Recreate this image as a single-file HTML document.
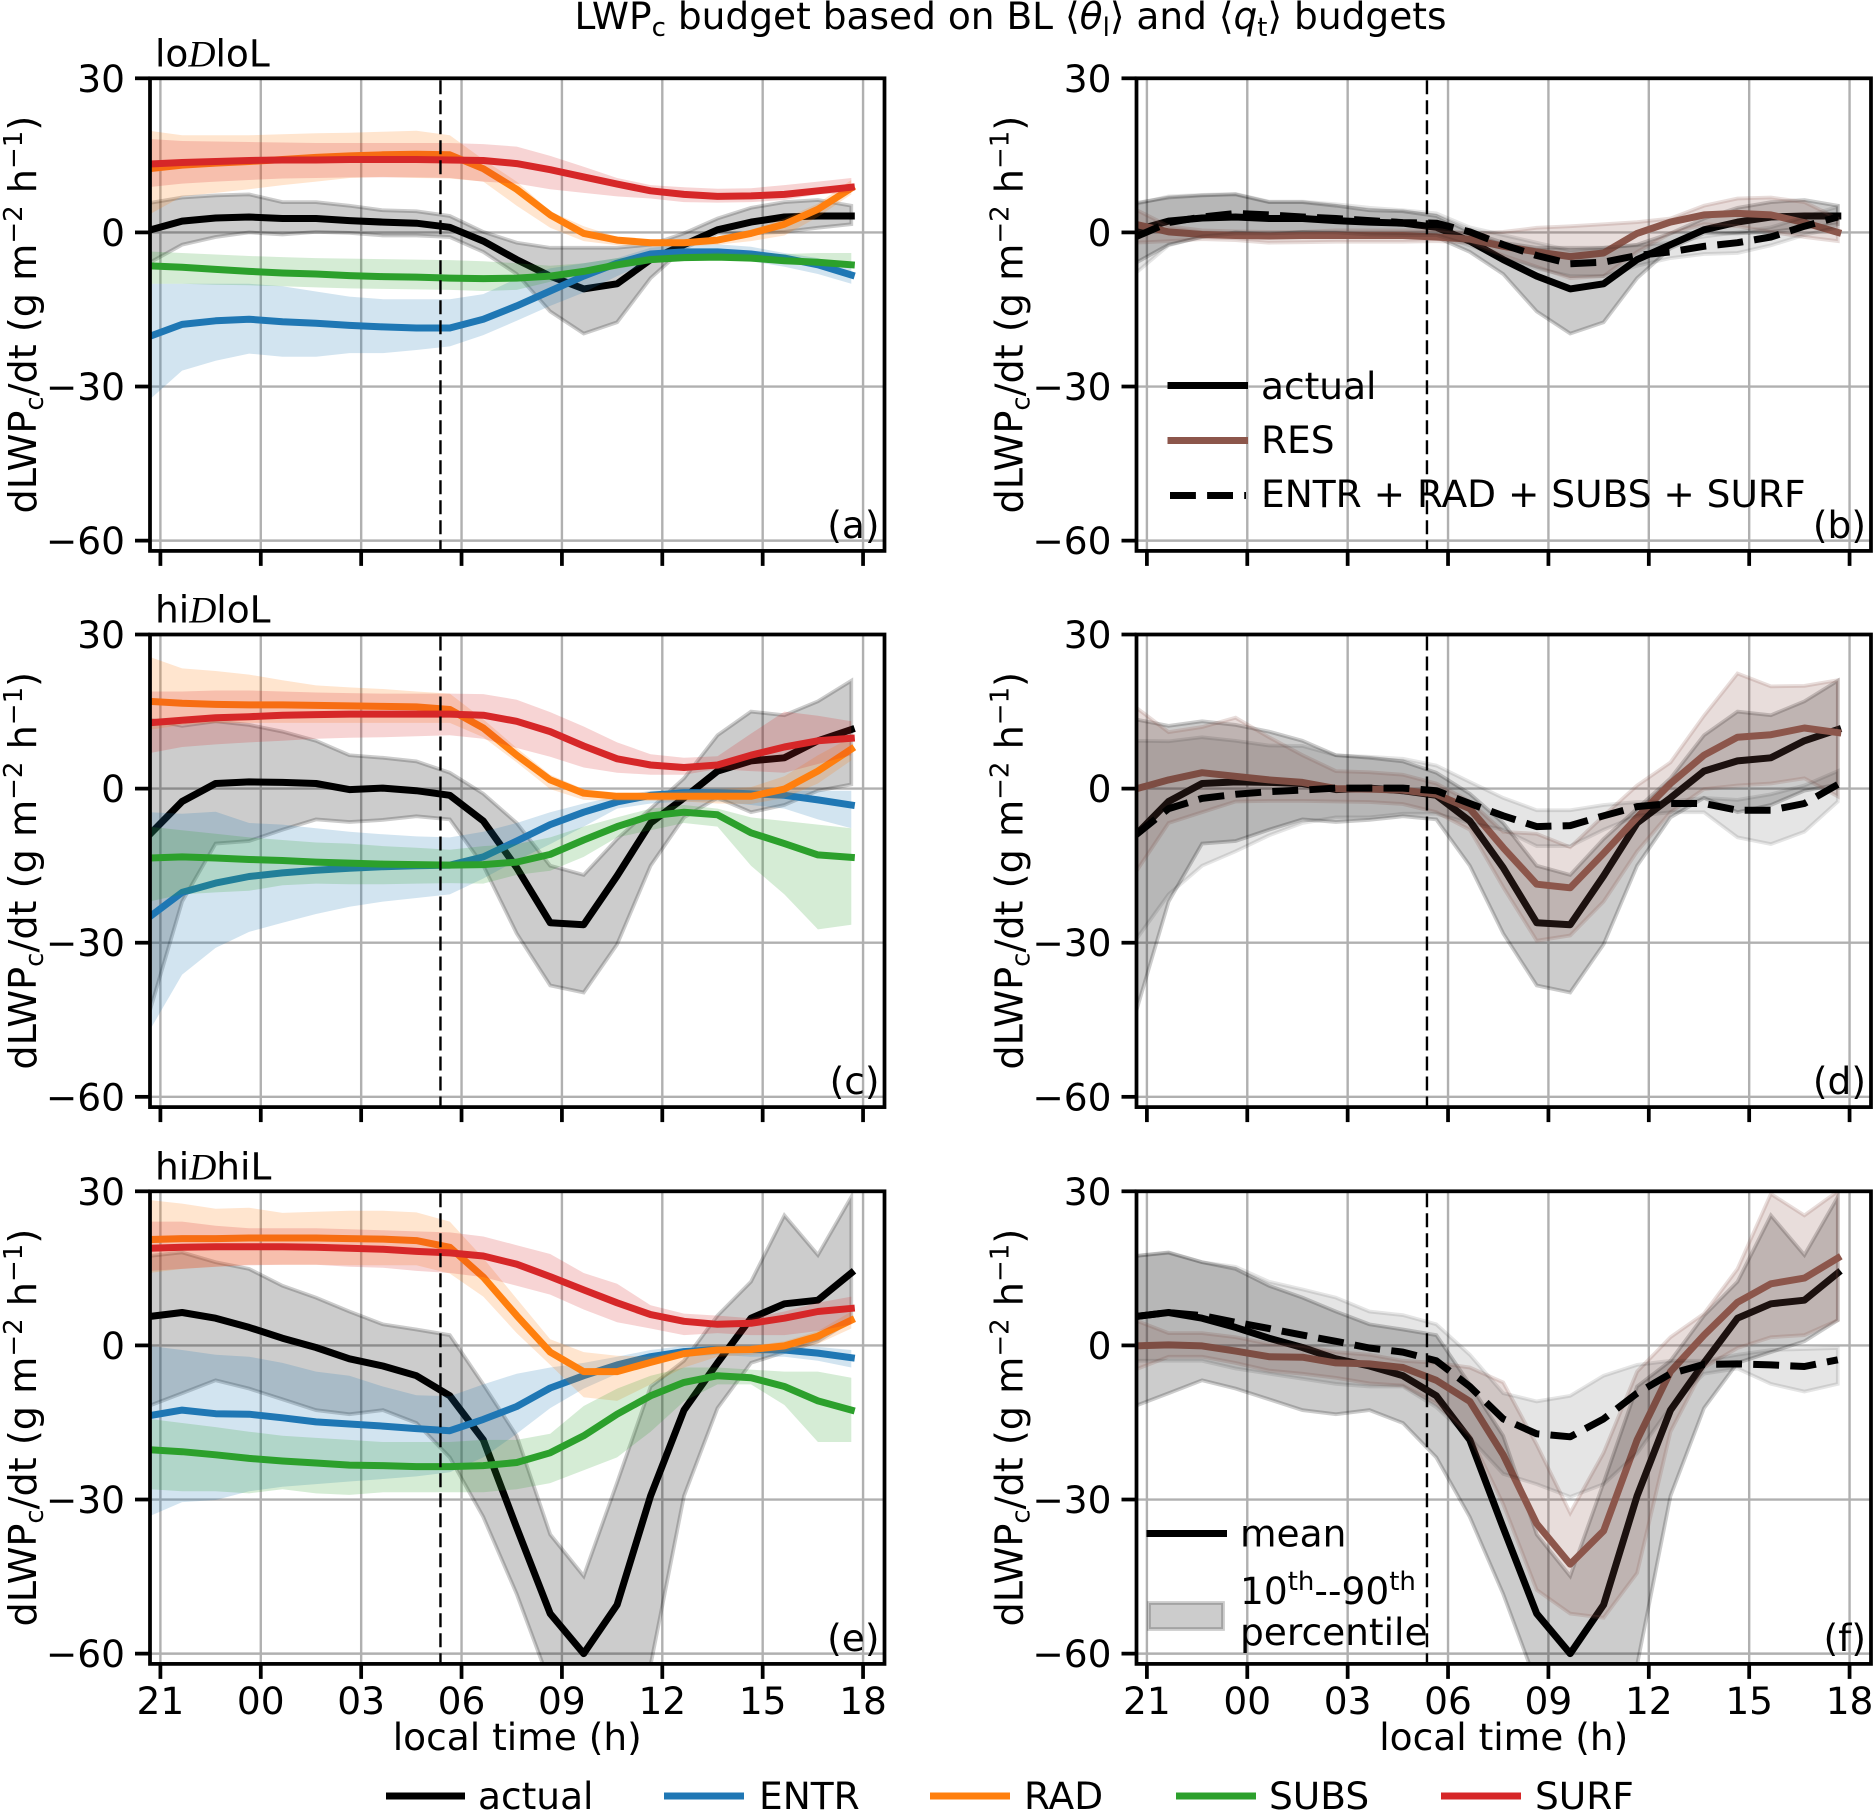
<!DOCTYPE html>
<html lang="en">
<head>
<meta charset="utf-8">
<title>LWPc budget panels</title>
<style>
html,body{margin:0;padding:0;background:#fff;}
#figure{display:block;width:1874px;height:1811px;}
text{font-family:"DejaVu Sans","Liberation Sans",sans-serif;font-size:37.5px;fill:#000;}
</style>
</head>
<body>
<svg id="figure" xmlns="http://www.w3.org/2000/svg" width="1874" height="1811" viewBox="0 0 1874 1811">
<rect x="0" y="0" width="1874" height="1811" fill="#fff"/>
<text x="1010.5" y="29" text-anchor="middle">LWP<tspan dy="7" font-size="26">c</tspan><tspan dy="-7"> budget based on BL ⟨</tspan><tspan font-style="italic">θ</tspan><tspan dy="7" font-size="26">l</tspan><tspan dy="-7">⟩ and ⟨</tspan><tspan font-style="italic">q</tspan><tspan dy="7" font-size="26">t</tspan><tspan dy="-7">⟩ budgets</tspan></text>
<g id="panels"></g>
<g id="legend-b">
<line x1="1167.5" x2="1248" y1="385.5" y2="385.5" stroke="#000" stroke-width="7"/>
<text x="1261" y="399">actual</text>
<line x1="1167.5" x2="1248" y1="440.5" y2="440.5" stroke="#8c564b" stroke-width="7"/>
<text x="1261" y="453">RES</text>
<line x1="1170" x2="1246" y1="495.5" y2="495.5" stroke="#000" stroke-width="7" stroke-dasharray="25.9 11.2"/>
<text x="1261" y="507">ENTR + RAD + SUBS + SURF</text>
</g>
<g id="legend-f">
<line x1="1146.5" x2="1227" y1="1533.5" y2="1533.5" stroke="#000" stroke-width="7"/>
<text x="1240" y="1546.5">mean</text>
<rect x="1149" y="1603" width="74" height="26" fill="#000" fill-opacity="0.2" stroke="#000" stroke-opacity="0.2" stroke-width="3.75"/>
<text x="1240" y="1604">10<tspan dy="-14" font-size="26">th</tspan><tspan dy="14">--90</tspan><tspan dy="-14" font-size="26">th</tspan></text>
<text x="1240" y="1645">percentile</text>
</g>
<g id="legend-bottom">
<line x1="386" x2="465" y1="1796" y2="1796" stroke="#000" stroke-width="7"/>
<text x="478" y="1809">actual</text>
<line x1="664" x2="744" y1="1796" y2="1796" stroke="#1f77b4" stroke-width="7"/>
<text x="759" y="1809">ENTR</text>
<line x1="930" x2="1010" y1="1796" y2="1796" stroke="#ff7f0e" stroke-width="7"/>
<text x="1024" y="1809">RAD</text>
<line x1="1176" x2="1256" y1="1796" y2="1796" stroke="#2ca02c" stroke-width="7"/>
<text x="1269" y="1809">SUBS</text>
<line x1="1441" x2="1521" y1="1796" y2="1796" stroke="#d62728" stroke-width="7"/>
<text x="1535" y="1809">SURF</text>
</g>
</svg>
<script>
// ---------- shared axis data ----------
const hours = [-3.35,-2.35,-1.35,-0.35,0.65,1.65,2.65,3.65,4.65,5.65,6.65,7.65,8.65,9.65,10.65,11.65,12.65,13.65,14.65,15.65,16.65,17.65];
const xTickHours = [-3,0,3,6,9,12,15,18];
const xTickLabels = ['21','00','03','06','09','12','15','18'];
const yTickValues = [30,0,-30,-60];
const yTickLabels = ['30','0','\u221230','\u221260'];
const yLimits = [-62,30];
const sunriseHour = 5.37;

// ---------- panel a / b ----------
const aActual = [0.4,2.2,2.8,3.0,2.7,2.7,2.3,2.0,1.8,1.0,-1.7,-5.3,-8.5,-11,-10,-5.3,-2.4,0.5,2,3,3.2,3.2];
const aActualHi = [5.7,6.8,7.2,7.4,5.9,5.9,5.2,4.3,4.1,3.2,0.1,-2,-3,-3,-3,-2.4,-0.2,2.7,4.8,5.9,6.3,5.2];
const aActualLo = [-6,-2.4,-0.9,0,-0.4,0.1,-0.1,-0.6,-0.6,-0.9,-3.8,-8.1,-15.4,-19.7,-17.5,-8.9,-3.1,-0.2,-0.2,0.1,0.9,1.6];
const aEntr = [-20.3,-17.9,-17.2,-16.9,-17.4,-17.7,-18.1,-18.4,-18.6,-18.6,-16.9,-14.3,-11.4,-8.5,-6,-4.2,-3.8,-3.8,-4.2,-5,-6.3,-8.3];
const aEntrHi = [-10,-10,-10,-10,-10.5,-11.5,-12.5,-13,-13,-13,-12,-9,-7,-6,-5,-3,-2.4,-2.3,-2.8,-4,-5,-7];
const aEntrLo = [-32.7,-26.9,-25,-23.6,-24.2,-24.2,-23.5,-23.5,-22.9,-22.2,-20,-17.2,-14.3,-11.7,-8.5,-5.6,-4.9,-5.3,-5.6,-6.7,-8.1,-10];
const aSubs = [-6.5,-6.8,-7.2,-7.6,-7.9,-8.1,-8.4,-8.6,-8.7,-8.9,-9,-8.9,-8.5,-7.6,-6.3,-5.3,-4.9,-4.8,-5,-5.5,-5.8,-6.3];
const aSubsHi = [-3.7,-4,-4.3,-4.6,-4.8,-5,-5.1,-5.2,-5.3,-5.4,-5.6,-6,-6.5,-6,-5,-4.5,-4.2,-3.9,-4,-4.2,-4,-4];
const aSubsLo = [-10,-10,-10.2,-10.3,-10.5,-10.7,-10.9,-11,-11.1,-11.2,-11.4,-11.2,-9.6,-8.1,-7.1,-6,-5.3,-5.3,-5.3,-6,-6.5,-7];
const aRad = [12.4,13.1,13.5,13.8,14.2,14.6,14.9,15.1,15.2,15.1,12.4,8.4,3.4,-0.2,-1.5,-2,-2,-1.5,-0.2,1.6,4.5,8.6];
const aRadHi = [19.8,18.9,18.9,18.9,19.1,19.3,19.4,19.6,19.8,18.9,14.2,9.9,4.1,1.2,-0.9,-1.6,-1.6,-0.9,0.5,2.7,5.6,10.2];
const aRadLo = [3.4,7,7.7,8.4,9.2,9.9,10.6,10.8,10.6,10.5,9.9,5.2,0.9,-1.7,-2.5,-2.7,-2.7,-2.4,-1.7,-0.6,3,7.4];
const aSurf = [13.3,13.6,13.8,14,14.1,14.1,14.2,14.2,14.2,14.1,14,13.4,12.2,10.8,9.4,8.1,7.4,7,7.1,7.4,8.1,8.8];
const aSurfHi = [18.2,17.8,17.7,17.6,17.5,17.4,17.4,17.4,17.4,17.4,17.2,16.7,14.9,12.8,10.6,9.2,8.8,8.5,8.6,9.2,9.9,10.6];
const aSurfLo = [8.8,9.5,9.9,10.2,10.5,10.6,10.7,10.7,10.7,10.6,9.9,9.5,8.4,7.7,7,6.6,5.9,5.8,5.9,6.3,7.4,7.7];
const bRes = [1.6,0.1,-0.4,-0.6,-0.7,-0.6,-0.6,-0.6,-0.6,-0.9,-1.3,-2.7,-3.8,-4.7,-4,-0.2,2,3.4,3.7,3.4,1.9,0];
const bResHi = [4.5,1.2,0.4,0.2,0.1,0.1,0.4,0.4,0.4,0.5,-0.2,0.1,0.9,1.2,1.6,2,2.7,5.2,6.6,6.8,5.9,2.7];
const bResLo = [-2,-1.7,-1.3,-1.5,-2,-1.9,-1.8,-1.8,-1.8,-1.7,-2,-4.5,-6.7,-8.9,-8.5,-3.8,-0.2,1.6,1.2,0.1,-0.9,-1.7];
const bSum = [-0.9,1.9,3,3.7,3.4,3,2.7,2.3,1.9,1.8,0.1,-2.4,-4.5,-6.1,-5.8,-4.5,-3.8,-2.7,-2,-0.9,1.2,3];
const bSumHi = [5.5,7,7.3,7.5,6,6,5.5,4.8,4.3,3.7,1,-0.5,-2,-3.5,-3,-2.5,-2,-0.8,0,1,3,5];
const bSumLo = [-8,-2.5,-0.8,-0.2,-0.2,0,0,-0.4,-0.5,-0.5,-2.5,-5,-7,-8.5,-8.5,-6.5,-5,-4.2,-4,-2.5,-0.5,1];

// ---------- panel c / d ----------
const cActual = [-9.1,-2.5,1,1.3,1.2,1,-0.2,0.1,-0.4,-1.3,-6.3,-15.4,-26.1,-26.5,-17,-6.7,-1.8,3.4,5.4,6,9.3,11.5];
const cActualHi = [13.5,12.2,13.1,12.4,11.1,9.3,6.5,6,5.3,3.1,-1,-6.7,-15,-16.8,-9.8,-3.9,2,10.4,15,14.3,17,21];
const cActualLo = [-44,-22,-10.7,-10.2,-8,-6,-6.5,-6.1,-5.4,-6,-15,-28.2,-38.3,-39.7,-30.3,-15,-5.6,-1.8,-4.6,-3.2,-0.4,0.8];
const cEntr = [-25.1,-20.2,-18.4,-17.1,-16.4,-15.9,-15.5,-15.2,-15,-14.9,-13.3,-10.2,-7,-4.6,-2.6,-1.3,-0.8,-0.8,-1,-1.3,-2.2,-3.2];
const cEntrHi = [-4.6,-4.9,-4.5,-6.7,-7,-7.7,-8.4,-8.9,-9.3,-9.5,-8.4,-6.7,-4.6,-2.9,-1.5,-0.4,-0.1,-0.1,-0.1,-0.4,-0.4,-0.4];
const cEntrLo = [-47.4,-36.2,-31,-27.9,-26.1,-24.4,-23,-22,-21.3,-20.6,-17.5,-14,-10.8,-7.4,-3.9,-2.9,-2.5,-2.5,-3.2,-3.9,-6,-7.7];
const cSubs = [-13.5,-13.3,-13.5,-13.8,-14,-14.3,-14.5,-14.7,-14.8,-14.9,-14.8,-14.3,-12.8,-10,-7.4,-5.3,-4.6,-5.1,-8.6,-10.7,-12.9,-13.4];
const cSubsHi = [-7.4,-8.1,-8.8,-9.5,-10,-10.5,-10.7,-11.2,-11.5,-11.9,-11.2,-10.8,-9.5,-7.4,-5.6,-3.9,-3.2,-3.9,-5.6,-6.3,-7,-7.7];
const cSubsLo = [-22,-20.6,-20.2,-19.9,-18.8,-18.5,-18.6,-18.6,-18.5,-18.4,-18.5,-16.8,-16,-13.3,-9.5,-8.1,-6.7,-7.4,-15,-20.6,-27.4,-26.5];
const cRad = [17,16.6,16.4,16.3,16.3,16.2,16.1,16,15.9,15.4,11.8,6.5,1.7,-0.9,-1.5,-1.5,-1.5,-1.5,-1.5,-0.1,3.4,7.7];
const cRadHi = [25.7,23.4,22.9,22.2,21.1,20.1,19.7,19.4,18.9,18.5,13.5,7.9,2.7,-0.1,-0.8,-0.8,-0.4,-0.1,0.3,2.4,6.5,10];
const cRadLo = [11.4,12.4,12.8,12.8,12.8,12.8,12.8,12.8,12.8,12.8,10,5.1,-0.1,-2.2,-2.4,-2.4,-2.5,-2.9,-3,-1.8,1,5.5];
const cSurf = [12.8,13.3,13.8,14,14.3,14.4,14.5,14.5,14.5,14.5,14.3,13.1,11.1,8.3,5.8,4.6,4.1,4.6,6.5,8.1,9.3,9.8];
const cSurfHi = [18.9,18.9,19.1,19.1,18.9,18.7,18.6,18.5,18.5,18.5,18.4,17.3,14.9,12.1,9,6.7,6,6.3,10.7,15,14.2,13.1];
const cSurfLo = [6.9,8.1,8.6,9,9.3,9.7,9.9,10,10.2,10.4,9.7,7.9,6.2,4.1,3.1,2.7,2.7,3.8,3.4,3.1,4.8,6.5];
const dRes = [-0.1,1.7,3.1,2.4,1.7,1.2,0,-0.1,-0.3,-1.1,-3.9,-11.5,-18.6,-19.3,-12.6,-5.6,1,6.5,10,10.5,11.8,10.9];
const dResHi = [15.9,11,12,13.8,10,6.5,3.4,3.2,2.7,1,-2.5,-8.4,-8.8,-11.4,-5.3,0.6,5.1,14.2,22.4,19.9,20,21.1];
const dResLo = [-16.4,-6.7,-4.6,-2.5,-2.4,-2.4,-2.5,-2.6,-3,-4.6,-8,-19.2,-29.6,-28.6,-22,-12.2,-4.6,-0.1,0.6,1,2,-1.5];
const dSum = [-9.1,-3.9,-1.9,-1.1,-0.6,-0.3,0.1,0.1,0.1,-0.4,-2.9,-5.3,-7.4,-7.2,-5.3,-3.5,-2.9,-2.9,-4.2,-4.2,-2.9,0.8];
const dSumHi = [9.3,9.2,10,9.3,8.4,8.3,6.5,6.2,5.8,4.5,1.3,-1.8,-4.2,-4.2,-3.2,-2.6,-2.5,-1.8,-2.2,-1.1,0.6,3.4];
const dSumLo = [-29.6,-20.6,-15,-12.2,-9.1,-6.7,-5.6,-5.6,-4.9,-4.9,-6.7,-8,-11.2,-11.2,-8,-5.3,-4.6,-4.6,-9.5,-10.8,-8.4,-2.5];

// ---------- panel e / f ----------
const eActual = [5.6,6.4,5.3,3.5,1.4,-0.4,-2.6,-4,-5.9,-9.8,-18.4,-35.5,-52.2,-60,-50.5,-29.3,-12.6,-3.4,5.3,8.1,8.8,14.1];
const eActualHi = [17.4,18.1,16.2,14.9,11.6,9.3,6.6,4.1,3.1,2,-7.6,-17.6,-36.8,-44.9,-26.7,-8,-3,5.8,12.4,25.3,17.6,28.9];
const eActualLo = [-11.8,-9.3,-6.8,-8.4,-10.5,-12.6,-13.4,-12.6,-15.1,-21.8,-33.4,-48.4,-65.9,-76.8,-76.8,-62.2,-29.3,-12.2,-3.4,-1.3,0.8,4.9];
const eEntr = [-13.7,-12.6,-13.3,-13.4,-14.1,-14.9,-15.3,-15.7,-16.2,-16.6,-14.4,-11.9,-8.3,-5.9,-3.8,-2.2,-1.2,-0.8,-0.8,-0.9,-1.5,-2.4];
const eEntrHi = [-0.1,-0.9,-1.8,-2.2,-3.4,-5.1,-5.9,-8,-9.7,-9.9,-7.6,-5.5,-4.3,-3.4,-2.2,-0.9,-0.1,-0.1,-0.1,-0.3,-0.3,-0.9];
const eEntrLo = [-33.3,-30.5,-30.1,-28.4,-27.5,-27,-26.5,-26,-25.5,-24.7,-21.8,-17.2,-12.2,-8.4,-5.5,-3,-2.2,-1.8,-2.2,-2.2,-3,-4.3];
const eSubs = [-20.3,-20.7,-21.3,-22,-22.5,-22.9,-23.3,-23.4,-23.6,-23.6,-23.4,-22.8,-20.9,-17.6,-13.4,-9.8,-7.2,-5.9,-6.3,-8,-10.8,-12.6];
const eSubsHi = [-14.3,-15.1,-15.9,-16.8,-17.6,-18,-18.4,-18.8,-18.8,-18.8,-18.4,-18.4,-17.2,-11.8,-8.4,-5.9,-4.3,-4.3,-4.7,-5.1,-5.1,-6.3];
const eSubsLo = [-28,-28.4,-28.4,-28.8,-28,-28.8,-29.1,-28.6,-28.6,-28.6,-28.6,-28,-26.8,-24.3,-21.8,-16.8,-10.9,-7.6,-7.6,-11.6,-18.8,-18.8];
const eRad = [20.6,20.8,20.8,20.9,20.9,20.9,20.8,20.7,20.4,19.1,13.3,5.8,-1.3,-5.1,-5.1,-3.3,-1.6,-0.9,-0.8,-0.1,1.8,4.9];
const eRadHi = [28.3,27.6,26.6,26.8,25.8,26,26.2,26.2,25.9,24.1,17,9.1,1.2,-1.3,-2,-2.2,-0.9,-0.1,-0.1,0.8,2.8,6.6];
const eRadLo = [14.1,14.9,15.3,15.7,15.7,15.7,15.6,15.6,15.6,14,9.5,2.4,-3.8,-10.1,-10.8,-7.6,-4.3,-2.2,-1.8,-1.3,0.3,3.3];
const eSurf = [18.9,19.1,19.2,19.2,19.2,19.1,18.9,18.7,18.3,18,17.4,15.8,13.4,10.8,8.3,6,4.7,4.1,4.3,5.3,6.6,7.2];
const eSurfHi = [24.1,24.1,23.3,22.8,22.8,22.8,22.6,22.4,22.2,22,21.2,19.5,17.8,14.1,12,7.8,6.2,5.8,5.3,6.6,8.3,9.5];
const eSurfLo = [14.5,14.9,15.3,15.6,15.7,15.7,15.3,15.1,14.5,14.1,13.3,11.6,9.9,7,4.5,3.3,2,2.4,2,2,2.8,4.1];
const fRes = [-0.1,0.1,-0.1,-1.1,-2.2,-2.3,-3.4,-3.6,-4.3,-6.8,-10.9,-21.3,-34.7,-42.6,-36.1,-18.4,-5.1,2,8.4,12,13.1,17];
const fResHi = [4.9,2.4,2.4,1.6,0.3,-0.1,-1.3,-1.8,-3,-3.4,-4.3,-7.2,-19.3,-32.6,-20.9,-5.1,1.6,6.2,14.9,29.5,25.3,30];
const fResLo = [-4.7,-2.2,-2.2,-3.4,-4.9,-5.5,-6.3,-7.4,-7.8,-11.3,-17.6,-30.9,-47.6,-52.2,-53,-44.3,-16.8,-4.3,-0.5,1.6,2,4.9];
const fSum = [5.6,6.4,5.8,4.5,3.3,2,0.8,-0.5,-1.3,-3,-8,-14.3,-17.2,-17.8,-14.3,-9.3,-5.5,-3.7,-3.6,-3.8,-4.1,-2.8];
const fSumHi = [17.4,18,16.2,15.3,12.4,10.9,9.3,6.6,5.9,4.1,-1.8,-9.3,-10.9,-9.8,-5.9,-3.8,-3,-3,-1.8,-0.9,-0.7,-0.5];
const fSumLo = [-3,-3,-3,-4.5,-5.5,-6.5,-7.5,-8,-8,-12,-18,-25,-27,-29.5,-27,-21,-12,-5.5,-4.5,-7.5,-9,-7.5];

// ---------- colours ----------
const black = '#000000', blue = '#1f77b4', orange = '#ff7f0e', green = '#2ca02c', red = '#d62728', brown = '#8c564b';

// ---------- series order for each panel ----------
function budgetSeries(actual, hi, lo, entr, entrHi, entrLo, rad, radHi, radLo, subs, subsHi, subsLo, surf, surfHi, surfLo) {
  return [
    {name:'actual', color:black, mean:actual, hi:hi, lo:lo, alpha:0.2, edge:true},
    {name:'entr', color:blue, mean:entr, hi:entrHi, lo:entrLo, alpha:0.2, edge:false},
    {name:'rad', color:orange, mean:rad, hi:radHi, lo:radLo, alpha:0.2, edge:false},
    {name:'subs', color:green, mean:subs, hi:subsHi, lo:subsLo, alpha:0.2, edge:false},
    {name:'surf', color:red, mean:surf, hi:surfHi, lo:surfLo, alpha:0.2, edge:false}
  ];
}
function closureSeries(actual, hi, lo, res, resHi, resLo, sum, sumHi, sumLo) {
  return [
    {name:'actual', color:black, mean:actual, hi:hi, lo:lo, alpha:0.2, edge:true},
    {name:'res', color:brown, mean:res, hi:resHi, lo:resLo, alpha:0.2, edge:true},
    {name:'sum', color:black, mean:sum, hi:sumHi, lo:sumLo, alpha:0.1, edge:true, dashed:true}
  ];
}
const panelLayout = [
  {id:'a', left:150, top:78.3, title:'lo|loL', labelsX:false, series:budgetSeries(aActual,aActualHi,aActualLo,aEntr,aEntrHi,aEntrLo,aRad,aRadHi,aRadLo,aSubs,aSubsHi,aSubsLo,aSurf,aSurfHi,aSurfLo)},
  {id:'b', left:1136.5, top:78.3, labelsX:false, series:closureSeries(aActual,aActualHi,aActualLo,bRes,bResHi,bResLo,bSum,bSumHi,bSumLo)},
  {id:'c', left:150, top:634.5, title:'hi|loL', labelsX:false, series:budgetSeries(cActual,cActualHi,cActualLo,cEntr,cEntrHi,cEntrLo,cRad,cRadHi,cRadLo,cSubs,cSubsHi,cSubsLo,cSurf,cSurfHi,cSurfLo)},
  {id:'d', left:1136.5, top:634.5, labelsX:false, series:closureSeries(cActual,cActualHi,cActualLo,dRes,dResHi,dResLo,dSum,dSumHi,dSumLo)},
  {id:'e', left:150, top:1191.3, title:'hi|hiL', labelsX:true, series:budgetSeries(eActual,eActualHi,eActualLo,eEntr,eEntrHi,eEntrLo,eRad,eRadHi,eRadLo,eSubs,eSubsHi,eSubsLo,eSurf,eSurfHi,eSurfLo)},
  {id:'f', left:1136.5, top:1191.3, labelsX:true, series:closureSeries(eActual,eActualHi,eActualLo,fRes,fResHi,fResLo,fSum,fSumHi,fSumLo)}
];

// ---------- drawing ----------
const NS = 'http://www.w3.org/2000/svg';
const AXES_W = 734.5, AXES_H = 472.6, X_PER_HOUR = 33.46, X_OFFSET = 10.4;
const root = document.getElementById('panels');

function make(tag, parent) {
  const el = document.createElementNS(NS, tag);
  parent.appendChild(el);
  return el;
}

function drawPanel(panel) {
  const xScale = h => panel.left + X_OFFSET + (h + 3) * X_PER_HOUR;
  const yScale = v => panel.top + (yLimits[1] - v) / (yLimits[1] - yLimits[0]) * AXES_H;
  const right = panel.left + AXES_W, bottom = panel.top + AXES_H;

  const g = make('g', root);
  
  

  const clip = make('clipPath', g);
  clip.setAttribute('id', 'clip-' + panel.id);
  const clipRect = make('rect', clip);
  clipRect.setAttribute('x', panel.left);
  clipRect.setAttribute('y', panel.top);
  clipRect.setAttribute('width', AXES_W);
  clipRect.setAttribute('height', AXES_H);

  // grid
  xTickHours.forEach((h, i) => {
    const gl = make('line', g);
    gl.setAttribute('x1', xScale(h)); gl.setAttribute('x2', xScale(h));
    gl.setAttribute('y1', panel.top); gl.setAttribute('y2', bottom);
    gl.setAttribute('stroke', '#b0b0b0'); gl.setAttribute('stroke-width', '2.4');
    
    
  });
  yTickValues.forEach((v, i) => {
    const gl = make('line', g);
    gl.setAttribute('x1', panel.left); gl.setAttribute('x2', right);
    gl.setAttribute('y1', yScale(v)); gl.setAttribute('y2', yScale(v));
    gl.setAttribute('stroke', '#b0b0b0'); gl.setAttribute('stroke-width', '2.4');
    
    
  });

  // series
  const plot = make('g', g);
  plot.setAttribute('clip-path', 'url(#clip-' + panel.id + ')');
  
  
  panel.series.forEach(s => {
    const fwd = s.hi.map((v, i) => xScale(hours[i]).toFixed(1) + ',' + yScale(v).toFixed(1));
    const back = s.lo.map((v, i) => xScale(hours[i]).toFixed(1) + ',' + yScale(v).toFixed(1)).reverse();
    const band = make('polygon', plot);
    band.setAttribute('points', fwd.concat(back).join(' '));
    band.setAttribute('fill', s.color);
    band.setAttribute('fill-opacity', s.alpha);
    if (s.edge) {
      band.setAttribute('stroke', s.color);
      band.setAttribute('stroke-opacity', s.alpha);
      band.setAttribute('stroke-width', '3.75');
    }
    
    

    const pts = s.mean.map((v, i) => xScale(hours[i]).toFixed(1) + ',' + yScale(v).toFixed(1)).join(' ');
    const line = make('polyline', plot);
    line.setAttribute('points', pts);
    line.setAttribute('fill', 'none');
    line.setAttribute('stroke', s.color);
    line.setAttribute('stroke-width', '7');
    line.setAttribute('stroke-linejoin', 'round');
    if (s.dashed) {
      line.setAttribute('stroke-dasharray', '25.9 11.2');
    } else {
      line.setAttribute('stroke-linecap', 'square');
    }
    
    
  });

  // vertical dashed marker
  const vl = make('line', g);
  vl.setAttribute('x1', xScale(sunriseHour)); vl.setAttribute('x2', xScale(sunriseHour));
  vl.setAttribute('y1', panel.top + 2); vl.setAttribute('y2', bottom);
  vl.setAttribute('stroke', '#000'); vl.setAttribute('stroke-width', '2.4');
  vl.setAttribute('stroke-dasharray', '14 6');
  
  

  // spines
  const frame = make('rect', g);
  frame.setAttribute('x', panel.left); frame.setAttribute('y', panel.top);
  frame.setAttribute('width', AXES_W); frame.setAttribute('height', AXES_H);
  frame.setAttribute('fill', 'none'); frame.setAttribute('stroke', '#000'); frame.setAttribute('stroke-width', '3.75');
  
  

  // x ticks
  xTickHours.forEach((h, i) => {
    const t = make('line', g);
    t.setAttribute('x1', xScale(h)); t.setAttribute('x2', xScale(h));
    t.setAttribute('y1', bottom); t.setAttribute('y2', bottom + 15);
    t.setAttribute('stroke', '#000'); t.setAttribute('stroke-width', '3.75');
    
    
    if (panel.labelsX) {
      const lab = make('text', g);
      lab.setAttribute('x', xScale(h)); lab.setAttribute('y', bottom + 50);
      lab.setAttribute('text-anchor', 'middle');
      lab.textContent = xTickLabels[i];
      
      
    }
  });
  // y ticks
  yTickValues.forEach((v, i) => {
    const t = make('line', g);
    t.setAttribute('x1', panel.left - 15); t.setAttribute('x2', panel.left);
    t.setAttribute('y1', yScale(v)); t.setAttribute('y2', yScale(v));
    t.setAttribute('stroke', '#000'); t.setAttribute('stroke-width', '3.75');
    
    
    const lab = make('text', g);
    lab.setAttribute('x', panel.left - 25); lab.setAttribute('y', yScale(v) + 13.5);
    lab.setAttribute('text-anchor', 'end');
    lab.textContent = yTickLabels[i];
    
    
  });

  // y axis title
  const yTitle = make('text', g);
  const tx = panel.left - 114, ty = panel.top + AXES_H / 2;
  yTitle.setAttribute('transform', 'translate(' + tx + ',' + ty + ') rotate(-90)');
  yTitle.setAttribute('text-anchor', 'middle');
  yTitle.setAttribute('font-size', '38.2');
  yTitle.style.fontSize = '38.2px';
  
  
  yTitle.innerHTML = 'dLWP<tspan dy="7" style="font-size:26px">c</tspan><tspan dy="-7">/dt (g m</tspan><tspan dy="-14" style="font-size:26px">\u22122</tspan><tspan dy="14"> h</tspan><tspan dy="-14" style="font-size:26px">\u22121</tspan><tspan dy="14">)</tspan>';

  // panel letter
  const letter = make('text', g);
  letter.setAttribute('x', right - 5); letter.setAttribute('y', bottom - 13);
  letter.setAttribute('text-anchor', 'end');
  letter.textContent = '(' + panel.id + ')';
  
  

  // panel title
  if (panel.title) {
    const parts = panel.title.split('|');
    const title = make('text', g);
    title.setAttribute('x', panel.left + 5); title.setAttribute('y', panel.top - 12);
    
    
    title.innerHTML = parts[0] + '<tspan font-family="Liberation Serif, serif" font-style="italic">D</tspan>' + parts[1];
  }

  // x axis title
  if (panel.labelsX) {
    const xTitle = make('text', g);
    xTitle.setAttribute('x', panel.left + AXES_W / 2); xTitle.setAttribute('y', bottom + 86);
    xTitle.setAttribute('text-anchor', 'middle');
    xTitle.textContent = 'local time (h)';
    
    
  }
}
panelLayout.forEach(drawPanel);
// keep the in-axes legends above the plotted marks
const svgRoot = document.getElementById('figure');
svgRoot.appendChild(document.getElementById('legend-b'));
svgRoot.appendChild(document.getElementById('legend-f'));
</script>
</body>
</html>
